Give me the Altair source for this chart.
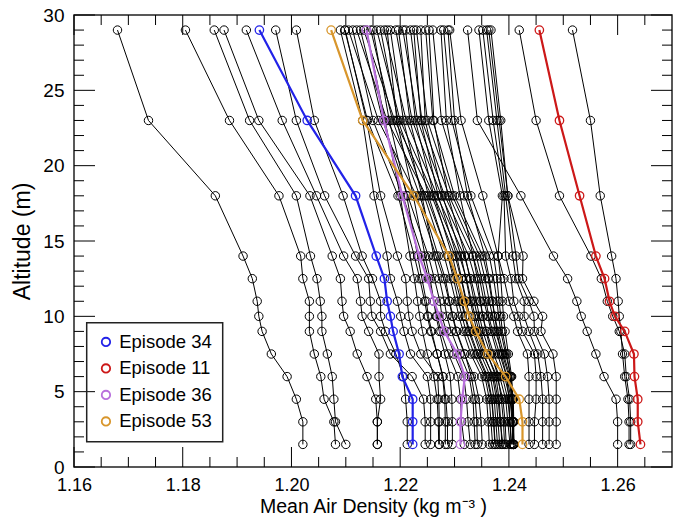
import math
import altair as alt
import pandas as pd

# Sounding levels (m), listed from the top of the profile down
ALTITUDES = [29, 23, 18, 14, 12.5, 11, 10, 9, 7.5, 6, 4.5, 3, 1.5]

# Highlighted episodes: mean air density (kg m^-3) at each level above
EPISODE_34 = [1.1941, 1.2029, 1.2118, 1.2156, 1.2171, 1.2176, 1.2182, 1.2187, 1.2198, 1.2204, 1.2223, 1.2223, 1.2223]
EPISODE_11 = [1.2456, 1.2493, 1.2530, 1.2560, 1.2576, 1.2585, 1.2595, 1.2613, 1.2630, 1.2631, 1.2637, 1.2637, 1.2642]
EPISODE_36 = [1.2138, 1.2170, 1.2204, 1.2235, 1.2250, 1.2262, 1.2272, 1.2281, 1.2305, 1.2319, 1.2314, 1.2311, 1.2311]
EPISODE_53 = [1.2073, 1.2131, 1.2225, 1.2290, 1.2305, 1.2318, 1.2327, 1.2339, 1.2361, 1.2394, 1.2419, 1.2425, 1.2425]

HIGHLIGHT_NAMES = ["Episode 34", "Episode 11", "Episode 36", "Episode 53"]
HIGHLIGHT_VALUES = [EPISODE_34, EPISODE_11, EPISODE_36, EPISODE_53]
HIGHLIGHT_COLORS = ["#2222e8", "#cc1818", "#b86fdc", "#d8962c"]

# All remaining episodes (same level order)
OTHER_EPISODES = [
    [1.1680, 1.1737, 1.1860, 1.1911, 1.1928, 1.1937, 1.1940, 1.1946, 1.1963, 1.1992, 1.2009, 1.2021, 1.2021],
    [1.1805, 1.1886, 1.1977, 1.2017, 1.2021, 1.2033, 1.2033, 1.2033, 1.2042, 1.2054, 1.2060, 1.2078, 1.2081],
    [1.1858, 1.1923, 1.2009, 1.2035, 1.2047, 1.2053, 1.2056, 1.2056, 1.2066, 1.2075, 1.2078, 1.2081, 1.2100],
    [1.1876, 1.1940, 1.2034, 1.2075, 1.2090, 1.2093, 1.2096, 1.2108, 1.2121, 1.2139, 1.2155, 1.2158, 1.2158],
    [1.1917, 1.1983, 1.2046, 1.2096, 1.2121, 1.2127, 1.2130, 1.2142, 1.2161, 1.2161, 1.2164, 1.2158, 1.2158],
    [1.1971, 1.2009, 1.2061, 1.2118, 1.2142, 1.2145, 1.2148, 1.2164, 1.2182, 1.2222, 1.2243, 1.2246, 1.2246],
    [1.2009, 1.2042, 1.2095, 1.2130, 1.2149, 1.2164, 1.2164, 1.2173, 1.2192, 1.2206, 1.2210, 1.2213, 1.2213],
    [1.2090, 1.2131, 1.2152, 1.2176, 1.2182, 1.2195, 1.2201, 1.2207, 1.2219, 1.2250, 1.2256, 1.2256, 1.2256],
    [1.2099, 1.2138, 1.2164, 1.2195, 1.2210, 1.2213, 1.2216, 1.2222, 1.2238, 1.2269, 1.2271, 1.2272, 1.2272],
    [1.2098, 1.2140, 1.2196, 1.2226, 1.2236, 1.2245, 1.2250, 1.2256, 1.2268, 1.2279, 1.2284, 1.2287, 1.2287],
    [1.2105, 1.2160, 1.2230, 1.2266, 1.2280, 1.2290, 1.2296, 1.2303, 1.2318, 1.2336, 1.2345, 1.2349, 1.2351],
    [1.2113, 1.2150, 1.2205, 1.2241, 1.2252, 1.2262, 1.2268, 1.2275, 1.2289, 1.2306, 1.2311, 1.2313, 1.2318],
    [1.2120, 1.2176, 1.2248, 1.2289, 1.2301, 1.2312, 1.2319, 1.2326, 1.2341, 1.2359, 1.2368, 1.2372, 1.2375],
    [1.2127, 1.2168, 1.2214, 1.2252, 1.2263, 1.2273, 1.2277, 1.2285, 1.2299, 1.2317, 1.2322, 1.2325, 1.2329],
    [1.2133, 1.2190, 1.2258, 1.2301, 1.2312, 1.2321, 1.2328, 1.2336, 1.2352, 1.2372, 1.2380, 1.2384, 1.2389],
    [1.2146, 1.2186, 1.2236, 1.2270, 1.2283, 1.2291, 1.2297, 1.2304, 1.2319, 1.2331, 1.2338, 1.2341, 1.2342],
    [1.2157, 1.2200, 1.2262, 1.2309, 1.2322, 1.2331, 1.2338, 1.2345, 1.2360, 1.2378, 1.2389, 1.2393, 1.2395],
    [1.2164, 1.2196, 1.2244, 1.2281, 1.2292, 1.2302, 1.2308, 1.2316, 1.2330, 1.2350, 1.2359, 1.2362, 1.2364],
    [1.2171, 1.2211, 1.2268, 1.2318, 1.2330, 1.2340, 1.2346, 1.2352, 1.2366, 1.2383, 1.2394, 1.2398, 1.2402],
    [1.2182, 1.2206, 1.2240, 1.2262, 1.2272, 1.2281, 1.2286, 1.2294, 1.2310, 1.2327, 1.2334, 1.2336, 1.2338],
    [1.2192, 1.2222, 1.2276, 1.2326, 1.2338, 1.2347, 1.2352, 1.2359, 1.2372, 1.2388, 1.2398, 1.2402, 1.2405],
    [1.2197, 1.2218, 1.2252, 1.2288, 1.2298, 1.2307, 1.2314, 1.2321, 1.2336, 1.2356, 1.2364, 1.2367, 1.2370],
    [1.2205, 1.2232, 1.2282, 1.2334, 1.2346, 1.2354, 1.2361, 1.2367, 1.2379, 1.2392, 1.2402, 1.2406, 1.2409],
    [1.2210, 1.2228, 1.2262, 1.2296, 1.2306, 1.2314, 1.2320, 1.2328, 1.2343, 1.2361, 1.2369, 1.2372, 1.2374],
    [1.2219, 1.2240, 1.2290, 1.2340, 1.2350, 1.2358, 1.2363, 1.2370, 1.2383, 1.2396, 1.2404, 1.2406, 1.2407],
    [1.2225, 1.2238, 1.2270, 1.2304, 1.2313, 1.2322, 1.2327, 1.2334, 1.2348, 1.2366, 1.2373, 1.2376, 1.2379],
    [1.2230, 1.2250, 1.2296, 1.2346, 1.2356, 1.2364, 1.2370, 1.2375, 1.2388, 1.2400, 1.2405, 1.2408, 1.2409],
    [1.2238, 1.2246, 1.2278, 1.2312, 1.2321, 1.2329, 1.2335, 1.2341, 1.2354, 1.2370, 1.2377, 1.2380, 1.2383],
    [1.2247, 1.2260, 1.2300, 1.2352, 1.2362, 1.2369, 1.2374, 1.2380, 1.2390, 1.2402, 1.2407, 1.2408, 1.2409],
    [1.2253, 1.2262, 1.2288, 1.2320, 1.2328, 1.2336, 1.2342, 1.2348, 1.2360, 1.2376, 1.2382, 1.2385, 1.2387],
    [1.2260, 1.2276, 1.2318, 1.2364, 1.2372, 1.2378, 1.2381, 1.2385, 1.2394, 1.2404, 1.2408, 1.2409, 1.2409],
    [1.2275, 1.2285, 1.2310, 1.2334, 1.2342, 1.2348, 1.2352, 1.2358, 1.2368, 1.2380, 1.2386, 1.2390, 1.2392],
    [1.2280, 1.2295, 1.2330, 1.2372, 1.2378, 1.2382, 1.2385, 1.2388, 1.2396, 1.2403, 1.2406, 1.2407, 1.2408],
    [1.2288, 1.2300, 1.2324, 1.2356, 1.2364, 1.2370, 1.2374, 1.2378, 1.2386, 1.2396, 1.2400, 1.2402, 1.2404],
    [1.2291, 1.2312, 1.2352, 1.2380, 1.2385, 1.2388, 1.2390, 1.2393, 1.2399, 1.2405, 1.2407, 1.2408, 1.2408],
    [1.2138, 1.2172, 1.2200, 1.2218, 1.2226, 1.2232, 1.2236, 1.2241, 1.2250, 1.2262, 1.2268, 1.2270, 1.2271],
    [1.2150, 1.2180, 1.2212, 1.2232, 1.2240, 1.2248, 1.2252, 1.2258, 1.2268, 1.2278, 1.2282, 1.2283, 1.2283],
    [1.2176, 1.2194, 1.2224, 1.2246, 1.2255, 1.2262, 1.2266, 1.2272, 1.2282, 1.2292, 1.2295, 1.2296, 1.2296],
    [1.2345, 1.2363, 1.2388, 1.2380, 1.2391, 1.2400, 1.2409, 1.2416, 1.2434, 1.2437, 1.2437, 1.2437, 1.2437],
    [1.2352, 1.2371, 1.2391, 1.2394, 1.2404, 1.2409, 1.2418, 1.2425, 1.2447, 1.2450, 1.2450, 1.2447, 1.2447],
    [1.2359, 1.2378, 1.2394, 1.2407, 1.2413, 1.2428, 1.2428, 1.2437, 1.2453, 1.2459, 1.2462, 1.2462, 1.2462],
    [1.2363, 1.2382, 1.2398, 1.2413, 1.2418, 1.2437, 1.2446, 1.2447, 1.2465, 1.2471, 1.2474, 1.2474, 1.2474],
    [1.2367, 1.2385, 1.2398, 1.2426, 1.2425, 1.2446, 1.2462, 1.2459, 1.2481, 1.2487, 1.2487, 1.2487, 1.2487],
    [1.2324, 1.2342, 1.2422, 1.2482, 1.2508, 1.2525, 1.2533, 1.2544, 1.2560, 1.2575, 1.2597, 1.2600, 1.2600],
    [1.2419, 1.2450, 1.2493, 1.2551, 1.2570, 1.2581, 1.2591, 1.2603, 1.2613, 1.2616, 1.2622, 1.2624, 1.2624],
    [1.2517, 1.2550, 1.2568, 1.2589, 1.2597, 1.2601, 1.2603, 1.2606, 1.2609, 1.2613, 1.2619, 1.2621, 1.2621],
]

# Axis tick positions (labelled majors and unlabelled minors)
X_MAJOR = [1.16, 1.18, 1.20, 1.22, 1.24, 1.26]
X_MINOR = [1.165, 1.17, 1.175, 1.185, 1.19, 1.195, 1.205, 1.21, 1.215,
           1.225, 1.23, 1.235, 1.245, 1.25, 1.255, 1.265]
Y_MAJOR = [0, 5, 10, 15, 20, 25, 30]
Y_MINOR = [1, 2, 3, 4, 6, 7, 8, 9, 11, 12, 13, 14, 16, 17, 18, 19,
           21, 22, 23, 24, 26, 27, 28, 29]
X_DOMAIN = [1.16, 1.27]
Y_DOMAIN = [0, 30]

PLOT_W, PLOT_H = 598, 452
MAJOR_PX, MINOR_PX = 20, 10          # inward tick lengths in pixels
FONT = "Liberation Sans"

X_PER_PX = (X_DOMAIN[1] - X_DOMAIN[0]) / PLOT_W
Y_PER_PX = (Y_DOMAIN[1] - Y_DOMAIN[0]) / PLOT_H

# ---- tables -------------------------------------------------------------
other_rows = []
for i, profile in enumerate(OTHER_EPISODES):
    for alt_m, rho in zip(ALTITUDES, profile):
        other_rows.append({"profile": f"run{i}", "altitude": alt_m, "density": rho})
other_df = pd.DataFrame(other_rows)

hl_rows = []
for name, profile in zip(HIGHLIGHT_NAMES, HIGHLIGHT_VALUES):
    for alt_m, rho in zip(ALTITUDES, profile):
        hl_rows.append({"episode": name, "altitude": alt_m, "density": rho})
hl_df = pd.DataFrame(hl_rows)

# inward frame ticks: start on the frame edge, end a fixed pixel length inside
xt_rows = []
for vals, px in ((X_MAJOR, MAJOR_PX), (X_MINOR, MINOR_PX)):
    d = px * Y_PER_PX
    for v in vals:
        xt_rows.append({"density": v, "altitude": Y_DOMAIN[0], "alt_end": Y_DOMAIN[0] + d})
        xt_rows.append({"density": v, "altitude": Y_DOMAIN[1], "alt_end": Y_DOMAIN[1] - d})
xt_df = pd.DataFrame(xt_rows)

yt_rows = []
for vals, px in ((Y_MAJOR, MAJOR_PX + 1), (Y_MINOR, MINOR_PX)):
    d = px * X_PER_PX
    for v in vals:
        yt_rows.append({"altitude": v, "density": X_DOMAIN[0], "dens_end": X_DOMAIN[0] + d})
        yt_rows.append({"altitude": v, "density": X_DOMAIN[1], "dens_end": X_DOMAIN[1] - d})
yt_df = pd.DataFrame(yt_rows)

# ---- shared encodings ---------------------------------------------------
x_axis = alt.Axis(values=X_MAJOR, format=".2f", ticks=False, domain=False, grid=False,
                  labelFlush=False, labelFont=FONT, labelFontSize=18, labelColor="black",
                  labelPadding=9, title="Mean Air Density (kg m⁻³ )", titleFont=FONT,
                  titleFontSize=19.5, titleFontWeight="normal", titleColor="black",
                  titlePadding=3)
y_axis = alt.Axis(values=Y_MAJOR, ticks=False, domain=False, grid=False,
                  labelFont=FONT, labelFontSize=19, labelColor="black", labelPadding=10,
                  title="Altitude (m)", titleFont=FONT, titleFontSize=23,
                  titleFontWeight="normal", titleColor="black", titlePadding=8)

X_SCALE = alt.Scale(domain=X_DOMAIN, nice=False, zero=False)
Y_SCALE = alt.Scale(domain=Y_DOMAIN, nice=False, zero=False)
X = alt.X("density:Q", scale=X_SCALE, axis=x_axis)
Y = alt.Y("altitude:Q", scale=Y_SCALE, axis=y_axis)

LEGEND = alt.Legend(title=None, orient="none", legendX=12.7, legendY=307.7,
                    symbolType="circle", symbolSize=71, symbolStrokeWidth=1.8,
                    labelFont=FONT, labelFontSize=18.5, labelColor="black",
                    padding=10, rowPadding=7.5, strokeColor="#222222")

COLOR = alt.Color("episode:N",
                  scale=alt.Scale(domain=HIGHLIGHT_NAMES, range=HIGHLIGHT_COLORS),
                  legend=LEGEND)

# ---- layers -------------------------------------------------------------
other_lines = alt.Chart(other_df).mark_line(color="black", strokeWidth=1).encode(
    x=X, y=Y, detail="profile:N", order=alt.Order("altitude:Q"))
other_points = alt.Chart(other_df).mark_point(
    shape="circle", filled=False, color="black", size=71, strokeWidth=1, opacity=1
).encode(x=X, y=Y)

hl_lines = alt.Chart(hl_df).mark_line(strokeWidth=2.2).encode(
    x=X, y=Y, color=COLOR, detail="episode:N", order=alt.Order("altitude:Q"))
hl_points = alt.Chart(hl_df).mark_point(
    shape="circle", filled=False, size=71, strokeWidth=1.3, opacity=1
).encode(x=X, y=Y, color=COLOR)

x_tick_marks = alt.Chart(xt_df).mark_rule(color="black", strokeWidth=1).encode(
    x=X, y=Y, y2="alt_end:Q")
y_tick_marks = alt.Chart(yt_df).mark_rule(color="black", strokeWidth=1).encode(
    x=X, x2="dens_end:Q", y=Y)

chart = alt.layer(
    other_lines, other_points, hl_lines, hl_points, x_tick_marks, y_tick_marks
).properties(
    width=PLOT_W, height=PLOT_H,
    autosize=alt.AutoSizeParams(type="none"),
    padding={"left": 74, "top": 15, "right": 8, "bottom": 53},
    background="white",
).configure_view(
    stroke="#222222", strokeWidth=1.5
).configure_legend(
    strokeWidth=1.5
)

chart.save("out.html", embed_options={"renderer": "svg", "actions": False})
